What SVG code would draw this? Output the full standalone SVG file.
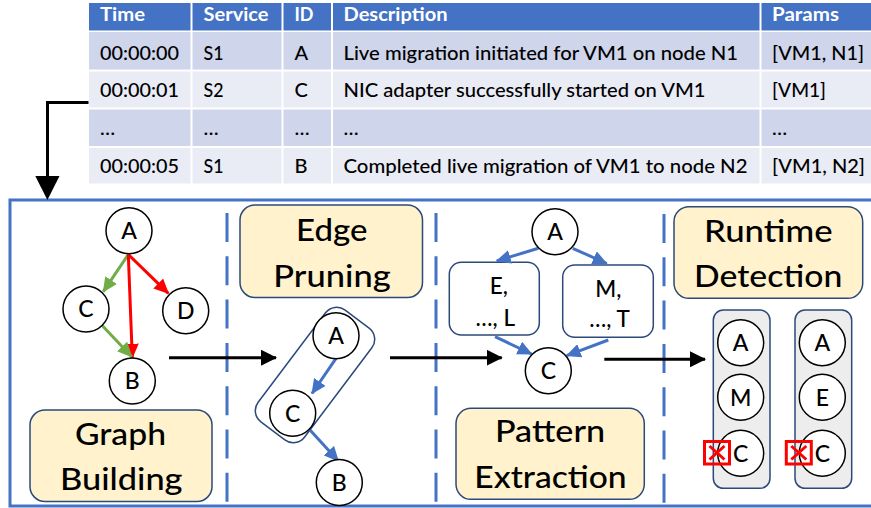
<svg xmlns="http://www.w3.org/2000/svg" width="871" height="508" viewBox="0 0 871 508">
  <style>
    text { font-family: Lato, "Open Sans", "Liberation Sans", sans-serif; fill: #000; font-weight: 500; }
    .th { font-size: 19.5px; font-weight: bold; fill: #fff; }
    .td { font-size: 20px; }
    .node circle { fill: #fff; stroke: #000; stroke-width: 1.5; }
    .node text { font-size: 23px; text-anchor: middle; }
    .label rect { fill: #fff2cc; stroke: #2b4a7a; stroke-width: 1.5; }
    .label text { font-size: 31.5px; text-anchor: middle; }
    .group rect { fill: #fff; stroke: #2b4a7a; stroke-width: 1.5; }
    .group text { font-size: 22.5px; text-anchor: middle; }
    .pill { fill: #ededed; stroke: #2b4a7a; stroke-width: 1.5; }
    .divider { stroke: #4472c4; stroke-width: 3; stroke-dasharray: 29 14.3; fill: none; }
    .flow { stroke: #000; stroke-width: 3; fill: none; }
    .green { stroke: #70ad47; stroke-width: 3; fill: none; marker-end: url(#head-green); }
    .red { stroke: #ff0000; stroke-width: 3; fill: none; marker-end: url(#head-red); }
    .blue { stroke: #4472c4; stroke-width: 3; fill: none; marker-end: url(#head-blue); }
    .fail { fill: none; stroke: #ff0000; stroke-width: 3; }
  </style>
  <defs>
    <marker id="head-green" markerUnits="userSpaceOnUse" markerWidth="15" markerHeight="14" refX="14" refY="7" orient="auto">
      <path d="M0,0 L15,7 L0,14 z" fill="#70ad47"/>
    </marker>
    <marker id="head-red" markerUnits="userSpaceOnUse" markerWidth="15" markerHeight="14" refX="14" refY="7" orient="auto">
      <path d="M0,0 L15,7 L0,14 z" fill="#ff0000"/>
    </marker>
    <marker id="head-blue" markerUnits="userSpaceOnUse" markerWidth="15" markerHeight="14" refX="14" refY="7" orient="auto">
      <path d="M0,0 L15,7 L0,14 z" fill="#4472c4"/>
    </marker>
    <marker id="head-black" markerUnits="userSpaceOnUse" markerWidth="16" markerHeight="16" refX="15" refY="8" orient="auto">
      <path d="M0,0 L16,8 L0,16 z" fill="#000"/>
    </marker>
  </defs>

  <!-- Log table -->
  <g id="log-table">
    <rect x="89" y="3" width="782" height="27.5" fill="#4472c4"/>
    <rect x="89" y="32" width="782" height="37.5" fill="#cfd5ea"/>
    <rect x="89" y="71.5" width="782" height="36" fill="#e9ebf5"/>
    <rect x="89" y="109.5" width="782" height="36.5" fill="#cfd5ea"/>
    <rect x="89" y="148" width="782" height="35.5" fill="#e9ebf5"/>
    <g stroke="#fff" stroke-width="2">
      <line x1="191.5" y1="3" x2="191.5" y2="184"/>
      <line x1="282.5" y1="3" x2="282.5" y2="184"/>
      <line x1="332" y1="3" x2="332" y2="184"/>
      <line x1="760.5" y1="3" x2="760.5" y2="184"/>
    </g>
    <text class="th" x="100" y="21" textLength="45" lengthAdjust="spacingAndGlyphs">Time</text>
    <text class="th" x="203.5" y="21" textLength="65" lengthAdjust="spacingAndGlyphs">Service</text>
    <text class="th" x="294.5" y="21" textLength="19" lengthAdjust="spacingAndGlyphs">ID</text>
    <text class="th" x="343.5" y="21" textLength="104" lengthAdjust="spacingAndGlyphs">Description</text>
    <text class="th" x="772" y="21" textLength="67" lengthAdjust="spacingAndGlyphs">Params</text>

    <text class="td" x="100" y="59.5" textLength="79" lengthAdjust="spacingAndGlyphs">00:00:00</text>
    <text class="td" x="203.5" y="59.5" textLength="20" lengthAdjust="spacingAndGlyphs">S1</text>
    <text class="td" x="294.5" y="59.5">A</text>
    <text class="td" x="343.5" y="59.5" textLength="394.5" lengthAdjust="spacingAndGlyphs">Live migration initiated for VM1 on node N1</text>
    <text class="td" x="772" y="59.5" textLength="92" lengthAdjust="spacingAndGlyphs">[VM1, N1]</text>

    <text class="td" x="100" y="97" textLength="79" lengthAdjust="spacingAndGlyphs">00:00:01</text>
    <text class="td" x="203.5" y="97" textLength="20" lengthAdjust="spacingAndGlyphs">S2</text>
    <text class="td" x="294.5" y="97">C</text>
    <text class="td" x="343.5" y="97" textLength="362" lengthAdjust="spacingAndGlyphs">NIC adapter successfully started on VM1</text>
    <text class="td" x="772" y="97" textLength="54" lengthAdjust="spacingAndGlyphs">[VM1]</text>

    <text class="td" x="100" y="134.5">…</text>
    <text class="td" x="203.5" y="134.5">…</text>
    <text class="td" x="294.5" y="134.5">…</text>
    <text class="td" x="343.5" y="134.5">…</text>
    <text class="td" x="772" y="134.5">…</text>

    <text class="td" x="100" y="173" textLength="79" lengthAdjust="spacingAndGlyphs">00:00:05</text>
    <text class="td" x="203.5" y="173" textLength="20" lengthAdjust="spacingAndGlyphs">S1</text>
    <text class="td" x="294.5" y="173">B</text>
    <text class="td" x="343.5" y="173" textLength="404" lengthAdjust="spacingAndGlyphs">Completed live migration of VM1 to node N2</text>
    <text class="td" x="772" y="173" textLength="93" lengthAdjust="spacingAndGlyphs">[VM1, N2]</text>
  </g>

  <!-- Pipeline frame and stage dividers -->
  <g id="frame">
    <rect x="10" y="200" width="880" height="306" fill="none" stroke="#4472c4" stroke-width="3"/>
    <line class="divider" x1="227" y1="213" x2="227" y2="503"/>
    <line class="divider" x1="436" y1="213" x2="436" y2="503"/>
    <line class="divider" x1="664" y1="214" x2="664" y2="503"/>
  </g>

  <!-- Stage labels -->
  <g id="label-graph-building" class="label">
    <rect x="30" y="410" width="182" height="91.5" rx="15"/>
    <text x="120.5" y="445" textLength="91" lengthAdjust="spacingAndGlyphs">Graph</text>
    <text x="121.3" y="490" textLength="122.5" lengthAdjust="spacingAndGlyphs">Building</text>
  </g>
  <g id="label-edge-pruning" class="label">
    <rect x="240" y="205" width="182.5" height="92.5" rx="15"/>
    <text x="331.7" y="240.7" textLength="71.3" lengthAdjust="spacingAndGlyphs">Edge</text>
    <text x="332" y="286.7" textLength="117.3" lengthAdjust="spacingAndGlyphs">Pruning</text>
  </g>
  <g id="label-pattern-extraction" class="label">
    <rect x="456" y="408.3" width="188.3" height="91" rx="15"/>
    <text x="550" y="442.3" textLength="110" lengthAdjust="spacingAndGlyphs">Pattern</text>
    <text x="550.5" y="487.7" textLength="152.3" lengthAdjust="spacingAndGlyphs">Extraction</text>
  </g>
  <g id="label-runtime-detection" class="label">
    <rect x="674" y="206.7" width="188.7" height="91.6" rx="15"/>
    <text x="768.3" y="241.7" textLength="128.7" lengthAdjust="spacingAndGlyphs">Runtime</text>
    <text x="768.2" y="287.3" textLength="148.3" lengthAdjust="spacingAndGlyphs">Detection</text>
  </g>

  <!-- Grouping shapes -->
  <g id="pruned-pair">
    <rect x="245" y="346" width="140" height="58" rx="14" transform="rotate(-53 315 375)" fill="none" stroke="#2b4a7a" stroke-width="1.5"/>
  </g>
  <g id="group-e-l" class="group">
    <rect x="449.3" y="262.3" width="90" height="72.7" rx="12"/>
    <text x="498.8" y="294">E,</text>
    <text x="495.3" y="326">…, L</text>
  </g>
  <g id="group-m-t" class="group">
    <rect x="562.7" y="265" width="90.6" height="72.3" rx="12"/>
    <text x="608.3" y="296.7">M,</text>
    <text x="609.5" y="327.3">…, T</text>
  </g>
  <g id="trace-1">
    <rect class="pill" x="713.3" y="310" width="56.7" height="178.3" rx="10"/>
  </g>
  <g id="trace-2">
    <rect class="pill" x="795" y="310" width="56.7" height="178.3" rx="10"/>
  </g>

  <!-- Connectors -->
  <g id="connectors">
    <path class="flow" d="M88.5,102.5 H47.5 V180"/>
    <polygon points="35.3,176 59.5,176 47.4,200" fill="#000"/>

    <line class="flow" x1="169" y1="357.7" x2="276" y2="357.7" marker-end="url(#head-black)"/>
    <line class="flow" x1="390" y1="357.7" x2="501.7" y2="357.7" marker-end="url(#head-black)"/>
    <line class="flow" x1="604.3" y1="359.3" x2="705" y2="359.3" marker-end="url(#head-black)"/>

    <line class="green" x1="128.3" y1="254.5" x2="103.3" y2="291.7"/>
    <line class="red" x1="128.3" y1="254.5" x2="168.3" y2="293.3"/>
    <line class="red" x1="128.3" y1="254.5" x2="132.3" y2="357.7"/>
    <line class="green" x1="101.7" y1="325" x2="131.7" y2="356.7"/>

    <line class="blue" x1="336" y1="358.3" x2="312" y2="393.5"/>
    <line class="blue" x1="310" y1="430" x2="338.3" y2="461"/>

    <line class="blue" x1="538.3" y1="248.3" x2="496.7" y2="261"/>
    <line class="blue" x1="572.7" y1="248.3" x2="606.7" y2="263.5"/>
    <line class="blue" x1="495" y1="336.7" x2="531.7" y2="354"/>
    <line class="blue" x1="608.3" y1="340" x2="566.7" y2="355.7"/>
  </g>

  <!-- Graph building nodes -->
  <g id="gb-a" class="node"><circle cx="129" cy="230.7" r="23"/><text x="129" y="239">A</text></g>
  <g id="gb-c" class="node"><circle cx="86" cy="309" r="23"/><text x="86" y="317.3">C</text></g>
  <g id="gb-d" class="node"><circle cx="185.7" cy="310.7" r="23"/><text x="185.7" y="319">D</text></g>
  <g id="gb-b" class="node"><circle cx="132.3" cy="381" r="23"/><text x="132.3" y="389.3">B</text></g>

  <!-- Edge pruning nodes -->
  <g id="ep-a" class="node"><circle cx="336" cy="335.7" r="23"/><text x="336" y="344">A</text></g>
  <g id="ep-c" class="node"><circle cx="292.7" cy="413.3" r="23"/><text x="292.7" y="421.6">C</text></g>
  <g id="ep-b" class="node"><circle cx="339.3" cy="482.5" r="23"/><text x="339.3" y="490.8">B</text></g>

  <!-- Pattern extraction nodes -->
  <g id="pe-a" class="node"><circle cx="555" cy="231.7" r="23"/><text x="555" y="240">A</text></g>
  <g id="pe-c" class="node"><circle cx="548.3" cy="370.7" r="23"/><text x="548.3" y="379">C</text></g>

  <!-- Runtime detection traces -->
  <g id="rt1-a" class="node"><circle cx="740.7" cy="342.7" r="23"/><text x="740.7" y="351">A</text></g>
  <g id="rt1-m" class="node"><circle cx="740.7" cy="397.3" r="23"/><text x="740.7" y="405.6">M</text></g>
  <g id="rt1-c" class="node"><circle cx="740.7" cy="453.3" r="23"/><text x="740.7" y="461.6">C</text></g>
  <g id="rt2-a" class="node"><circle cx="822.3" cy="342.7" r="23"/><text x="822.3" y="351">A</text></g>
  <g id="rt2-e" class="node"><circle cx="822.3" cy="397.3" r="23"/><text x="822.3" y="405.6">E</text></g>
  <g id="rt2-c" class="node"><circle cx="822.3" cy="453.3" r="23"/><text x="822.3" y="461.6">C</text></g>

  <!-- Failure marks -->
  <g id="fail-1">
    <rect class="fail" x="704.5" y="441.5" width="25" height="22.5"/>
    <path class="fail" d="M709.5,446 L724.5,459.5 M724.5,446 L709.5,459.5"/>
  </g>
  <g id="fail-2">
    <rect class="fail" x="786.3" y="441.5" width="25" height="22.5"/>
    <path class="fail" d="M791.3,446 L806.3,459.5 M806.3,446 L791.3,459.5"/>
  </g>
</svg>
